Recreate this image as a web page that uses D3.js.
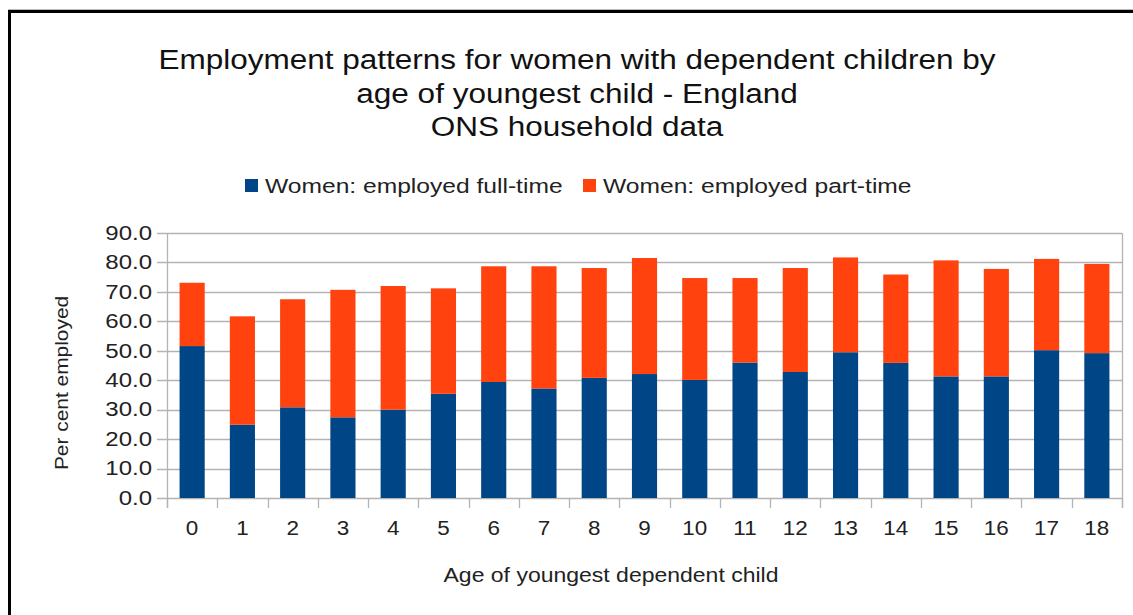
<!DOCTYPE html>
<html>
<head>
<meta charset="utf-8">
<script src="https://cdn.jsdelivr.net/npm/d3@7"></script>
<style>
  html, body { margin: 0; padding: 0; background: #fff; }
  svg { display: block; }
</style>
</head>
<body>
<svg id="chart" width="1133" height="615"></svg>
<script>
// Age of youngest dependent child
const ages = ["0","1","2","3","4","5","6","7","8","9","10","11","12","13","14","15","16","17","18"];
// Per cent of women employed full-time
const fullTime = [51.6, 24.9, 30.8, 27.4, 30.0, 35.4, 39.4, 37.2, 40.8, 42.1, 40.1, 46.0, 42.8, 49.5, 45.9, 41.3, 41.3, 50.2, 49.2];
// Per cent of women employed part-time
const partTime = [21.5, 36.8, 36.7, 43.3, 42.0, 35.8, 39.3, 41.5, 37.3, 39.4, 34.6, 28.7, 35.3, 32.2, 30.0, 39.4, 36.5, 31.0, 30.3];
const yTicks = [0, 10, 20, 30, 40, 50, 60, 70, 80, 90];
const seriesNames = ["Women: employed full-time", "Women: employed part-time"];
const seriesColors = ["#004586", "#ff420e"];
const titleLines = ["Employment patterns for women with dependent children by", "age of youngest child - England", "ONS household data"];

const svg = d3.select("#chart");
const W = 1133, H = 615;
const plot = { left: 167, right: 1122, top: 233, bottom: 498 };
const SANS = "Liberation Sans, Arial, sans-serif";
const NARROW = "Liberation Sans Narrow, Arial Narrow, sans-serif";

// Widen text horizontally by a factor, keeping its anchor point
function widen(sel, factor) {
  sel.each(function () {
    const len = this.getComputedTextLength();
    d3.select(this).attr("textLength", len * factor).attr("lengthAdjust", "spacingAndGlyphs");
  });
  return sel;
}

// Frame around the chart
svg.append("line").attr("x1", 8).attr("x2", W).attr("y1", 9.5).attr("y2", 9.5).attr("stroke", "#bbb").attr("stroke-width", 1);
svg.append("line").attr("x1", 8).attr("x2", W).attr("y1", 11.5).attr("y2", 11.5).attr("stroke", "#000").attr("stroke-width", 3);
svg.append("line").attr("x1", 9.5).attr("x2", 9.5).attr("y1", 10).attr("y2", H).attr("stroke", "#000").attr("stroke-width", 3);

// Title
const title = svg.append("g")
  .attr("font-family", SANS)
  .attr("font-size", 27)
  .attr("fill", "#111");
titleLines.forEach((t, i) => {
  widen(title.append("text").attr("text-anchor", "middle").attr("x", 577).attr("y", 69 + i * 33.5).text(t), 1.167);
});

// Scales
const x = d3.scaleBand().domain(ages).range([plot.left, plot.right]).paddingInner(0.5).paddingOuter(0.25);
const xEdge = d3.scaleLinear().domain([0, ages.length]).range([plot.left, plot.right]);
const y = d3.scaleLinear().domain([0, 90]).range([plot.bottom, plot.top]);

// Horizontal gridlines
svg.append("g")
  .selectAll("line")
  .data(yTicks)
  .join("line")
  .attr("x1", plot.left - 10).attr("x2", plot.right)
  .attr("y1", d => Math.round(y(d)) + 0.5).attr("y2", d => Math.round(y(d)) + 0.5)
  .attr("stroke", "#b3b3b3").attr("stroke-width", 1.3);

// Vertical axis line and right edge
svg.append("line").attr("x1", plot.left + 0.5).attr("x2", plot.left + 0.5)
  .attr("y1", plot.top).attr("y2", plot.bottom + 10).attr("stroke", "#b3b3b3").attr("stroke-width", 1.3);
svg.append("line").attr("x1", plot.right + 0.5).attr("x2", plot.right + 0.5)
  .attr("y1", plot.top).attr("y2", plot.bottom + 10).attr("stroke", "#b3b3b3").attr("stroke-width", 1.3);

// Category boundary ticks
svg.append("g")
  .selectAll("line")
  .data(d3.range(ages.length + 1))
  .join("line")
  .attr("x1", d => Math.round(xEdge(d)) + 0.5).attr("x2", d => Math.round(xEdge(d)) + 0.5)
  .attr("y1", plot.bottom).attr("y2", plot.bottom + 10)
  .attr("stroke", "#b3b3b3").attr("stroke-width", 1.3);

// Stacked bars
const rows = ages.map((a, i) => ({ age: a, full: fullTime[i], part: partTime[i] }));
const stack = d3.stack().keys(["full", "part"])(rows);
svg.append("g")
  .selectAll("g")
  .data(stack)
  .join("g")
  .attr("fill", (d, i) => seriesColors[i])
  .selectAll("rect")
  .data(d => d)
  .join("rect")
  .attr("x", d => x(d.data.age))
  .attr("width", x.bandwidth())
  .attr("y", d => y(d[1]))
  .attr("height", d => y(d[0]) - y(d[1]));

// Y tick labels
widen(svg.append("g")
  .selectAll("text")
  .data(yTicks)
  .join("text")
  .attr("x", 152).attr("y", d => y(d))
  .attr("dy", "0.35em")
  .attr("text-anchor", "end")
  .attr("font-family", SANS)
  .attr("font-size", 19.5)
  .attr("fill", "#222")
  .text(d => d3.format(".1f")(d)), 1.23);

// X tick labels
widen(svg.append("g")
  .selectAll("text")
  .data(ages)
  .join("text")
  .attr("x", d => x(d) + x.bandwidth() / 2).attr("y", 535)
  .attr("text-anchor", "middle")
  .attr("font-family", SANS)
  .attr("font-size", 19.5)
  .attr("fill", "#222")
  .text(d => d), 1.15);

// Axis titles
widen(svg.append("text")
  .attr("x", 611).attr("y", 582)
  .attr("text-anchor", "middle")
  .attr("font-family", NARROW)
  .attr("font-size", 21)
  .attr("fill", "#222")
  .text("Age of youngest dependent child"), 1.095);
widen(svg.append("text")
  .attr("transform", "translate(68,383) rotate(-90)")
  .attr("text-anchor", "middle")
  .attr("font-family", NARROW)
  .attr("font-size", 19)
  .attr("fill", "#222")
  .text("Per cent employed"), 1.1);

// Legend
const legend = svg.append("g");
const legendX = [245, 583];
seriesNames.forEach((name, i) => {
  legend.append("rect").attr("x", legendX[i]).attr("y", 179).attr("width", 13).attr("height", 13).attr("fill", seriesColors[i]);
  widen(legend.append("text")
    .attr("x", legendX[i] + 20).attr("y", 193)
    .attr("font-family", SANS)
    .attr("font-size", 20.5)
    .attr("fill", "#222")
    .text(name), 1.2);
});
</script>
</body>
</html>
